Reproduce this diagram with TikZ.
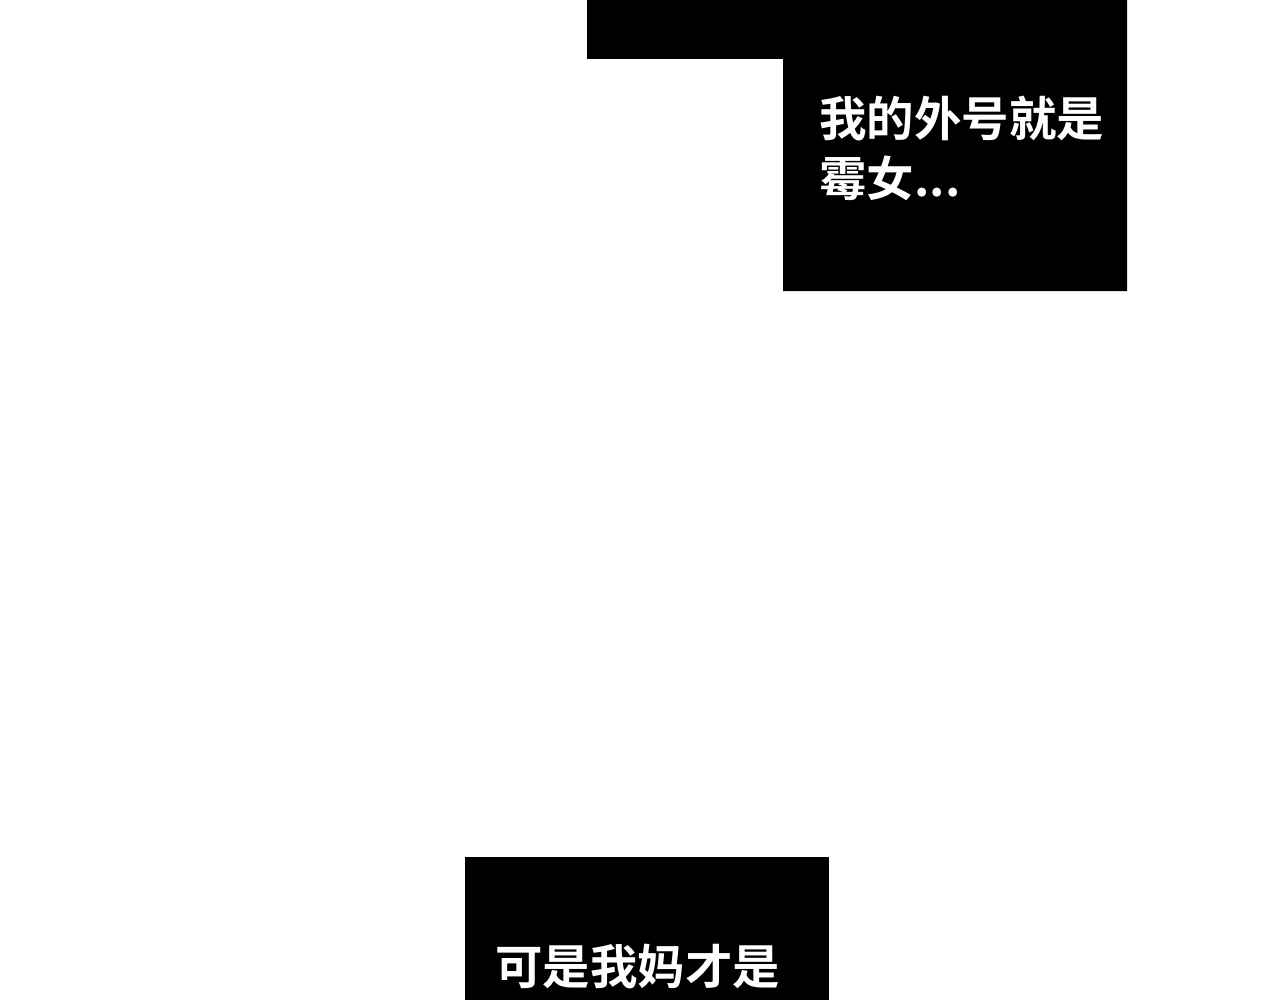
\documentclass[tikz,border=0pt]{standalone}
\usepackage{fontspec}
\newfontfamily\cjk{Noto Sans CJK SC}[BoldFont={* Bold}]
\begin{document}
\begin{tikzpicture}[x=0.02cm,y=-0.02cm,
  txt/.style={text=white,font=\cjk\bfseries\fontsize{27}{34}\selectfont,anchor=north west,inner sep=0pt,align=left}]
\useasboundingbox (0,0) rectangle (1280,1000);
\fill[black] (587,0) -- (1127,0) -- (1127,291) -- (783,291) -- (783,59) -- (587,59) -- cycle;
\fill[black] (465,857) rectangle (829,1000);
\node[txt] (t1) at (819,96) {我的外号就是\\霉女...};
\node[txt] (t2) at (495,944) {可是我妈才是};
\end{tikzpicture}
\end{document}
